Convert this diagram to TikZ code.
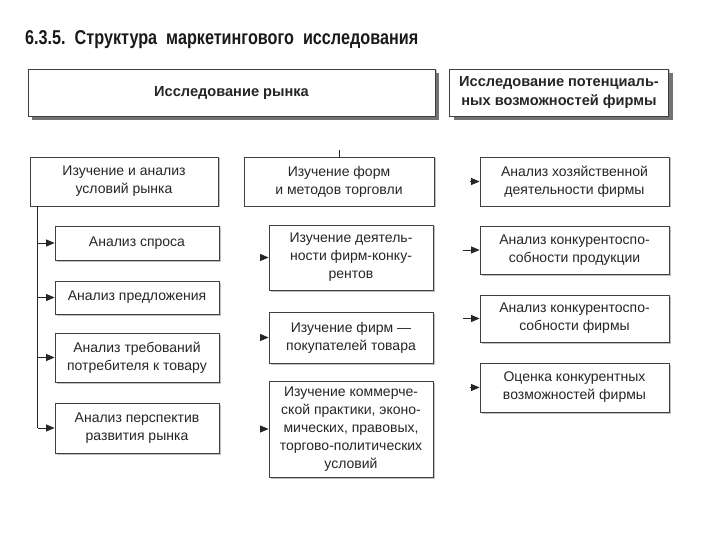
\documentclass[tikz,border=0pt]{standalone}
\usepackage{fontspec}
\setmainfont{Liberation Sans}
\usetikzlibrary{arrows.meta,shadows}
\begin{document}
\begin{tikzpicture}[x=1pt,y=-1pt,
  box/.style={draw=black!75, line width=0.8pt, fill=white, align=center, inner sep=0pt,
    text=black!85, font=\fontsize{14}{18}\selectfont,
    drop shadow={shadow xshift=1.5pt, shadow yshift=-1.5pt, fill=black!25, opacity=1}},
  topbox/.style={box, font=\fontsize{14.6}{18.5}\selectfont\bfseries,
    drop shadow={shadow xshift=4pt, shadow yshift=-4pt, fill=black!55, opacity=1}},
  arr/.style={draw=black!85, line width=0.8pt, -{Triangle[length=8.5pt,width=7pt]}},
  ln/.style={draw=black!85, line width=0.8pt}]
\useasboundingbox (0,0) rectangle (720,540);
\node[anchor=base west, inner sep=0pt, text=black!90] (title) at (25,45)
  {\resizebox{393pt}{14pt}{\bfseries 6.3.5.\ \ Структура\ \ маркетингового\ \ исследования}};
% top row
\node[topbox, minimum width=407pt, minimum height=47pt] (t1) at (231.5,92.5) {Исследование рынка};
\node[topbox, minimum width=219pt, minimum height=47pt] (t2) at (559,92.5) {Исследование потенциаль-\\ных возможностей фирмы};
% second row
\node[box, minimum width=188pt, minimum height=49pt] (A) at (124,181.5) {Изучение и анализ\\условий рынка};
\node[box, minimum width=190pt, minimum height=49pt] (B) at (339,181.5) {Изучение форм\\и методов торговли};
\node[box, minimum width=189pt, minimum height=49pt] (C) at (574.5,181.5) {Анализ хозяйственной\\деятельности фирмы};
% left column
\node[box, minimum width=164pt, minimum height=34pt] (L1) at (137,243) {Анализ спроса};
\node[box, minimum width=164pt, minimum height=33pt] (L2) at (137,297.5) {Анализ предложения};
\node[box, minimum width=164pt, minimum height=49pt] (L3) at (137,357.5) {Анализ требований\\потребителя к товару};
\node[box, minimum width=164pt, minimum height=50pt] (L4) at (137,428) {Анализ перспектив\\развития рынка};
% middle column
\node[box, minimum width=164pt, minimum height=65pt] (M1) at (351,257.5) {Изучение деятель-\\ности фирм-конку-\\рентов};
\node[box, minimum width=164pt, minimum height=51pt] (M2) at (351,337.5) {Изучение фирм —\\покупателей товара};
\node[box, minimum width=164pt, minimum height=96pt] (M3) at (351,429) {Изучение коммерче-\\ской практики, эконо-\\мических, правовых,\\торгово-политических\\условий};
% right column
\node[box, minimum width=189pt, minimum height=48pt] (R2) at (574.5,250) {Анализ конкурентоспо-\\собности продукции};
\node[box, minimum width=189pt, minimum height=47pt] (R3) at (574.5,318.5) {Анализ конкурентоспо-\\собности фирмы};
\node[box, minimum width=189pt, minimum height=49pt] (R4) at (574.5,387.5) {Оценка конкурентных\\возможностей фирмы};
% connectors left
\coordinate (lv) at ([xshift=8pt]A.south west);
\draw[ln] (lv) -- (lv|-L4.west);
\draw[arr] (lv|-L1.west) -- (L1.west);
\draw[arr] (lv|-L2.west) -- (L2.west);
\draw[arr] (lv|-L3.west) -- (L3.west);
\draw[arr] (lv|-L4.west) -- (L4.west);
% middle
\coordinate (btop) at (339,150);
\draw[ln] (btop) -- (B.north);
\draw[arr] ([xshift=-9pt]M1.west) -- (M1.west);
\draw[arr] ([xshift=-9pt]M2.west) -- (M2.west);
\draw[arr] ([xshift=-9pt]M3.west) -- (M3.west);
% right
\draw[arr] ([xshift=-10pt]C.west) -- (C.west);
\draw[arr] ([xshift=-17pt]R2.west) -- (R2.west);
\draw[arr] ([xshift=-17pt]R3.west) -- (R3.west);
\draw[arr] ([xshift=-10pt]R4.west) -- (R4.west);
\end{tikzpicture}
\end{document}
